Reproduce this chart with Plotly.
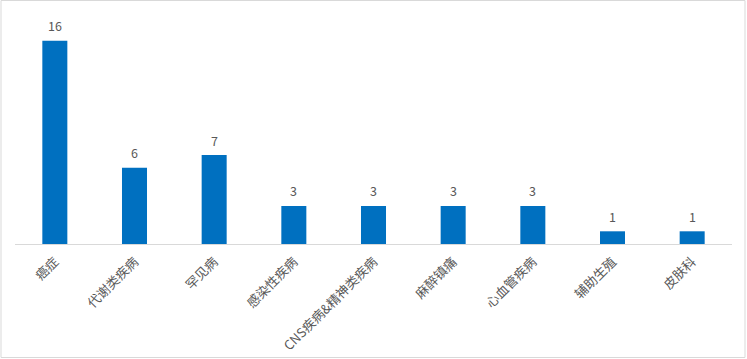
import plotly.graph_objects as go

categories = ["癌症", "代谢类疾病", "罕见病", "感染性疾病", "CNS疾病&精神类疾病",
              "麻醉镇痛", "心血管疾病", "辅助生殖", "皮肤科"]
values = [16, 6, 7, 3, 3, 3, 3, 1, 1]

W, H = 747, 359
L, R, T, B = 15, 15, 20, 115
pw = W - L - R
ph = H - T - B

fig = go.Figure(go.Bar(
    x=categories, y=values,
    marker=dict(color="#0070C0", line=dict(width=0)),
    hoverinfo="x+y",
))

annotations = [dict(x=c, y=v, xref="x", yref="y", text=str(v), showarrow=False,
                    yanchor="middle", yshift=15,
                    font=dict(size=12.5, color="#595959"))
               for c, v in zip(categories, values)]

fig.update_layout(
    width=W, height=H,
    margin=dict(l=L, r=R, t=T, b=B, autoexpand=False),
    paper_bgcolor="white", plot_bgcolor="white",
    bargap=0.686,
    showlegend=False,
    font=dict(family="Noto Sans CJK SC, Noto Sans, sans-serif", size=12, color="#595959"),
    xaxis=dict(showline=True, linecolor="#D9D9D9", linewidth=1, ticks="",
               tickangle=-45, tickfont=dict(size=13, color="#595959"),
               ticklabelstandoff=4,
               showgrid=False, zeroline=False, automargin=False),
    yaxis=dict(range=[0, ph / 12.7], visible=False, showgrid=False, zeroline=False,
               automargin=False),
    annotations=annotations,
    shapes=[dict(type="rect", xref="paper", yref="paper",
                 x0=(1 - L) / pw, x1=(745 - L) / pw,
                 y0=(H - B - 357.5) / ph, y1=(H - B - 0.5) / ph,
                 line=dict(color="#D9D9D9", width=1), fillcolor="rgba(0,0,0,0)")],
)

fig.write_html("out.html", config={"displayModeBar": False},
               post_script="document.body.style.margin='0';document.body.style.overflow='hidden';")
